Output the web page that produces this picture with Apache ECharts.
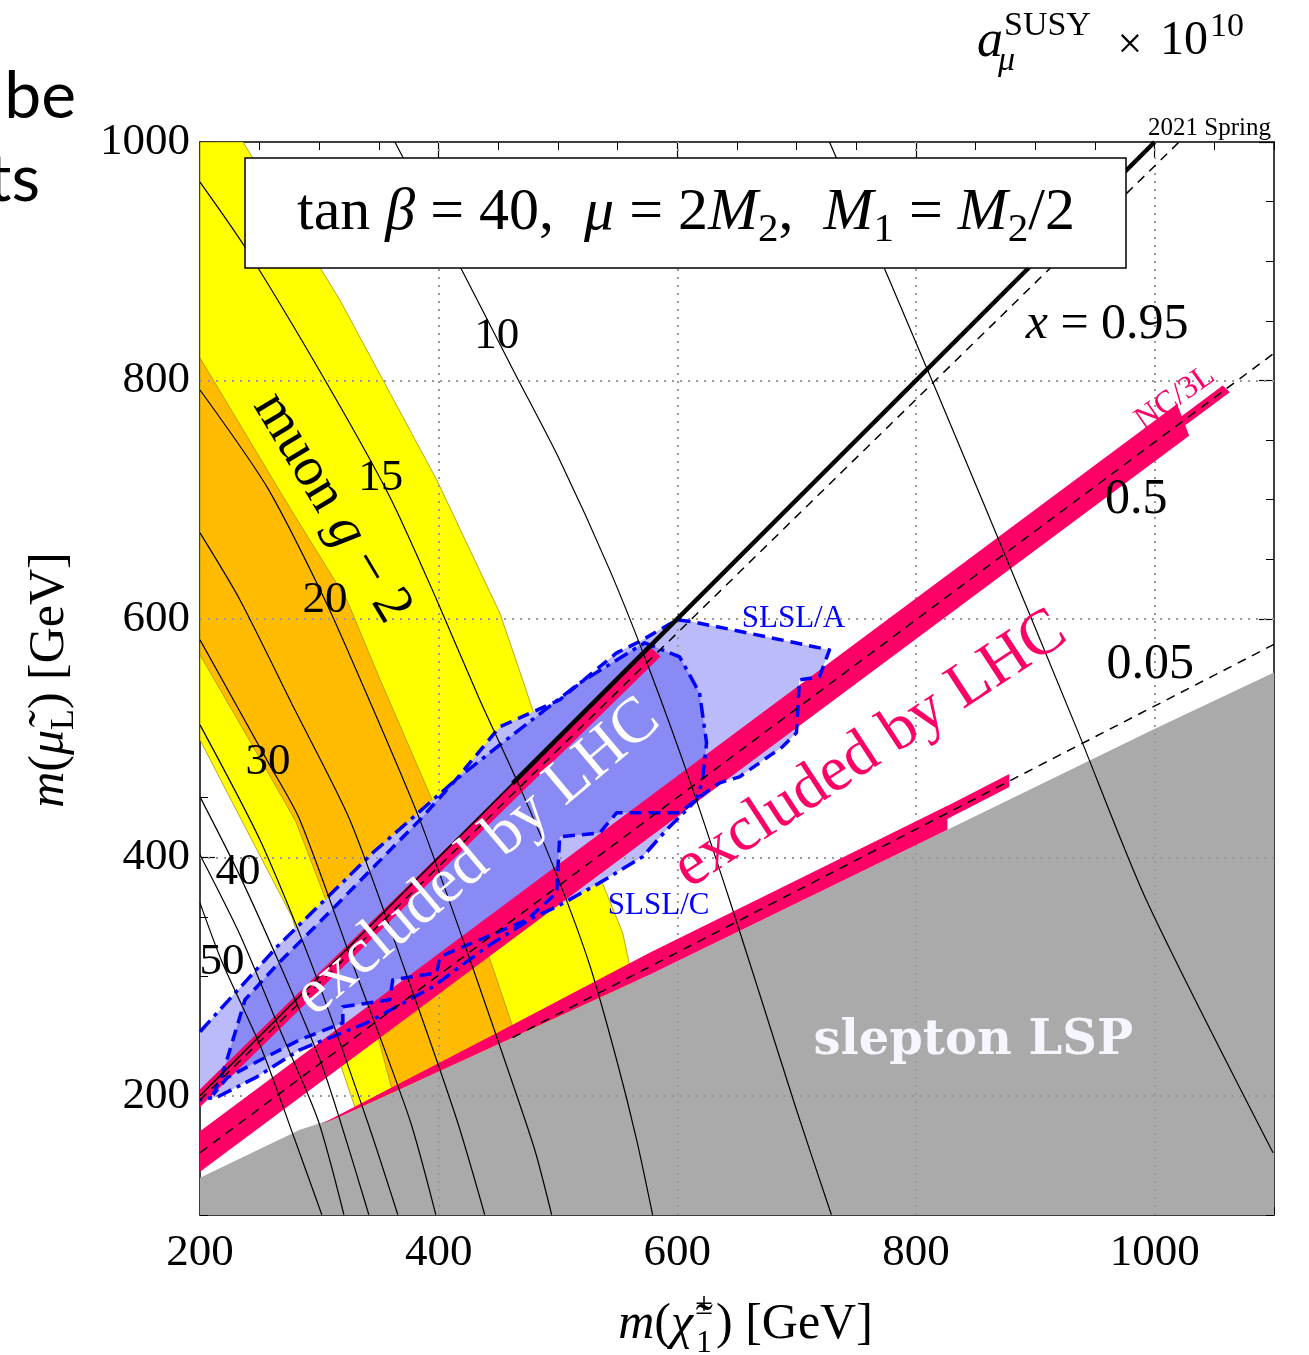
<!DOCTYPE html>
<html>
<head>
<meta charset="utf-8">
<script src="https://cdn.jsdelivr.net/npm/echarts@6.0.0/dist/echarts.min.js"></script>
<style>
html,body{margin:0;padding:0;background:#ffffff;}
#chart{width:1309px;height:1355px;}
</style>
</head>
<body>
<div id="chart"></div>
<script>
// ---------------- tick values ----------------
const X_MAJOR = [200, 400, 600, 800, 1000];
const Y_MAJOR = [200, 400, 600, 800, 1000];
const GRID_X = [400, 600, 800, 1000];
const GRID_Y = [200, 400, 600, 800];

// ---------------- regions  [m(chargino), m(smuon)] in GeV ----------------
const YELLOW_BAND = [[200,1000],[236.0,1000],[317.2,867.5],[398.4,716.6],[451.2,605.0],[470.4,548.8],[478.8,523.7],[515.6,431.4],[554.2,336.7],[561.7,301.5],[589.3,196.6],[618.6,100.2],[354.9,100.2],[330.6,188.3],[317.2,227.7],[277.0,350.1],[237.7,425.6],[200,498.5]];
const ORANGE_BAND = [[200,818.9],[277.9,688.9],[323.1,615.9],[349.9,551.4],[401.8,431.4],[444.5,309.9],[462.1,257.9],[490.5,179.9],[518.2,100.2],[392.6,100.2],[361.6,202.5],[348.2,252.8],[280.4,429.8],[251.9,480.1],[200,569.8]];
const SLEPTON_LSP = [[200,100],[200,131.2],[283.7,171.5],[317.2,182.4],[576.8,301.5],[998,506.9],[1100,555.1],[1100,100]];

const SLSL_UNION = [[200,253.7],[264.5,324.9],[344.8,403.8],[414.3,465.0],[451.2,509.4],[501.4,532.1],[549.1,571.5],[570.9,582.4],[599.4,599.2],[612.8,597.5],[646.3,590.8],[727.5,574.0],[719.1,551.4],[702.3,548.8],[699.8,504.4],[688.1,492.7],[652.1,467.5],[635.4,462.5],[616.1,448.2],[591.0,423.1],[570.9,400.4],[534.9,378.6],[498.9,358.5],[478.8,349.3],[440.3,324.9],[395.1,291.4],[339.8,261.2],[283.7,238.6],[247.7,215.9],[215.1,199.2],[200,196.6]];
const SLSL_OVERLAP = [[210.9,200.8],[218.4,217.6],[222.6,230.2],[237.7,280.5],[264.5,309.9],[308.8,354.3],[344.8,391.2],[384.2,431.4],[414.3,465.0],[451.2,494.3],[518.2,546.3],[572.6,579.9],[601.9,568.1],[618.6,537.9],[624.5,496.0],[621.1,465.0],[616.1,448.2],[601.9,437.3],[549.1,437.3],[534.9,420.5],[501.4,417.2],[498.9,370.2],[473.8,347.6],[400.9,316.6],[398.4,303.1],[361.6,297.3],[359.1,280.5],[319.7,274.6],[319.7,261.2],[283.7,247.0],[247.7,228.5],[222.6,215.1]];
const SLSL_A_EDGE = [[210.9,200.8],[218.4,217.6],[222.6,230.2],[237.7,280.5],[264.5,309.9],[308.8,354.3],[344.8,391.2],[384.2,431.4],[414.3,465.0],[451.2,509.4],[501.4,532.1],[549.1,571.5],[570.9,582.4],[599.4,599.2],[612.8,597.5],[646.3,590.8],[727.5,574.0],[719.1,551.4],[702.3,548.8],[699.8,504.4],[688.1,492.7],[652.1,467.5],[635.4,462.5],[618.6,450.7],[601.9,437.3],[549.1,437.3],[534.9,420.5],[501.4,417.2],[498.9,370.2],[473.8,347.6],[400.9,316.6],[398.4,303.1],[361.6,297.3],[359.1,280.5],[319.7,274.6],[319.7,261.2],[283.7,247.0],[247.7,228.5],[222.6,215.1],[210.9,200.8]];
const SLSL_C_EDGE = [[200,253.7],[264.5,324.9],[344.8,403.8],[414.3,465.0],[451.2,494.3],[518.2,546.3],[572.6,579.9],[601.9,568.1],[618.6,537.9],[624.5,496.0],[621.1,465.0],[616.1,448.2],[591.0,423.1],[570.9,400.4],[534.9,378.6],[498.9,358.5],[478.8,349.3],[440.3,324.9],[395.1,291.4],[339.8,261.2],[283.7,238.6],[247.7,215.9],[215.1,199.2],[200,196.6]];

const NC3L_X095 = [[200,205.5],[578,575.7],[586,568.5],[200,190.5]];
const NC3L_X05_WIDE = [[200,170.2],[1018.8,780.3],[1028.9,753.7],[200,136.2]];
const NC3L_X05_NARROW = [[1018,766.7],[1057,795.7],[1063,790.2],[1024,761.2]];
const NC3L_X005_WIDE = [[302.1,176.5],[451.2,254.0],[576.8,320.0],[826.3,443.2],[826.3,423.1],[576.8,301.5],[317.2,182.4]];
const NC3L_X005_NARROW = [[823.7,441.8],[878.2,470.0],[878.2,459.0],[823.7,430.8]];

// ---------------- lines ----------------
const LINE_X1_THIN = [[200,200],[462,462]];
const LINE_X1_THICK = [[462,462],[1000,1000]];
const LINE_X095 = [[200,196.5],[1020.5,1000]];
const LINE_X05 = [[200,152.2],[1100,822.8]];
const LINE_X005 = [[462,248.9],[1100,578.6]];

// ---------------- a_mu^SUSY x 10^10 contours ----------------
const AMU_5  = [[727.5,1000],[777.7,884.3],[857.2,695.6],[935.1,506.9],[992.9,364.4],[1099.2,152.2]];
const AMU_10 = [[363.3,1000],[419.4,892.7],[463.7,806.3],[501.4,733.3],[543.3,641.1],[576.8,557.2],[610.2,465.0],[643.7,364.4],[670.5,280.5],[699.8,188.3],[729.1,100.2]];
const AMU_15 = [[200,966.4],[237.7,911.9],[304.7,800.4],[359.1,702.3],[398.4,615.9],[434.4,532.1],[467.9,459.1],[498.9,385.3],[526.5,309.9],[549.1,230.2],[565.9,163.1],[579.3,100.2]];
const AMU_20 = [[200,792.0],[256.1,710.7],[304.7,615.9],[338.1,540.5],[384.2,431.4],[427.7,309.9],[459.5,217.6],[480.5,154.7],[494.7,100.2]];
const AMU_25 = [[200,672.1],[233.5,615.9],[279.5,523.7],[325.6,431.4],[371.6,305.7],[415.2,179.9],[438.6,100.2]];
const AMU_30 = [[200,582.4],[256.9,480.1],[283.7,431.4],[329.8,305.7],[375.8,179.9],[397.6,100.2]];
const AMU_35 = [[200,511.1],[250.2,414.7],[292.1,314.0],[339.8,179.9],[365.8,100.2]];
const AMU_40 = [[200,450.7],[231.8,387.8],[267.0,309.9],[300.5,230.2],[317.2,179.9],[341.5,100.2]];
const AMU_45 = [[200,402.1],[233.5,335.0],[267.0,255.3],[298.8,179.9],[320.6,100.2]];
const AMU_50 = [[200,361.8],[218.4,312.4],[251.9,238.6],[279.5,163.1],[302.1,100.2]];
const CONTOUR_LABELS = ['10', '15', '20', '30', '40', '50'];

// ---------------- styling / layout (not data) ----------------
const SERIF = "'Liberation Serif','Times New Roman',serif";
const PINK = '#FF0066';
const CONTOUR_LABEL_AT = [[448.7,837.3],[351.5,718.2],[304.7,615.9],[256.9,480.1],[231.8,387.8],[218.4,312.4]];
const ANNOT = [
  {at:[960.2,846.5], text:'{i|x}{n| = 0.95}', size:50},
  {at:[984.5,699.8], text:'0.5', size:50},
  {at:[996.2,561.4], text:'0.05', size:50},
  {at:[310.5,693.1], text:'{n|muon }{i|g}{n| − 2}', size:56, rot:-1.03},
  {at:[432.8,399.6], text:'excluded by LHC', size:64, color:'#FFFFFF', rot:0.70},
  {at:[761.8,490.1], text:'excluded by LHC', size:64, color:PINK, rot:0.58},
  {at:[848.0,245.3], text:'slepton LSP', size:48, color:'#F6F6FF', weight:'bold', family:"'DejaVu Serif',serif"},
  {at:[697.3,600.0], text:'SLSL/A', size:31, color:'#0000FF'},
  {at:[584.3,359.3], text:'SLSL/C', size:31, color:'#0000FF'},
  {at:[1017.1,785.3], text:'NC/3L', size:32, color:PINK, rot:0.61}
];

function rich(size, family) {
  const f = family || SERIF;
  return {
    n: {fontSize: size, fontFamily: f, lineHeight: size * 1.25},
    i: {fontSize: size, fontFamily: f, fontStyle: 'italic', lineHeight: size * 1.25},
    s: {fontSize: Math.round(size * 0.68), fontFamily: f, lineHeight: Math.round(size * 0.68), verticalAlign: 'bottom'},
    u: {fontSize: Math.round(size * 0.68), fontFamily: f, lineHeight: Math.round(size * 0.68), verticalAlign: 'top'}
  };
}

function polygon(points, fill, z, stroke, lw) {
  return {
    type: 'custom', coordinateSystem: 'cartesian2d', clip: true, silent: true, z: z,
    data: [[points[0][0], points[0][1]]],
    renderItem: function (params, api) {
      return {
        type: 'polygon',
        shape: {points: points.map(function (p) { return api.coord(p); })},
        style: {fill: fill, stroke: stroke || null, lineWidth: lw || 0}
      };
    }
  };
}

function line(points, color, width, type, z, smooth) {
  return {
    type: 'line', data: points, symbol: 'none', showSymbol: false, smooth: smooth || false,
    z: z, silent: true, clip: true,
    lineStyle: {color: color, width: width, type: type || 'solid', cap: 'butt', join: 'round'}
  };
}

function textSeries(items, z) {
  return {
    type: 'custom', coordinateSystem: 'cartesian2d', silent: true, z: z, clip: false,
    data: items.map(function (a) { return [a.at[0], a.at[1]]; }),
    renderItem: function (params, api) {
      const a = items[params.dataIndex];
      const p = api.coord(a.at);
      const fam = a.family || SERIF;
      return {
        type: 'text', x: p[0], y: p[1], rotation: a.rot || 0,
        style: {
          text: a.text, fill: a.color || '#000', fontSize: a.size, fontFamily: fam,
          fontWeight: a.weight || 'normal', lineHeight: a.size * 1.25,
          align: 'center', verticalAlign: 'middle', textAlign: 'center', textVerticalAlign: 'middle',
          rich: rich(a.size, fam)
        }
      };
    }
  };
}

function gtext(x, y, text, size, o) {
  o = o || {};
  const fam = o.family || SERIF;
  return {
    type: 'text', x: x, y: y, rotation: o.rot || 0, z: 100, silent: true,
    style: {
      text: text, fill: o.color || '#000', fontSize: size, fontFamily: fam,
      fontStyle: o.style || 'normal', fontWeight: o.weight || 'normal', lineHeight: size * 1.25,
      align: o.align || 'left', verticalAlign: o.valign || 'middle',
      textAlign: o.align || 'left', textVerticalAlign: o.valign || 'middle',
      rich: rich(size, fam)
    }
  };
}

function plainNum(v) { return String(v); }

function xAxisDef(pos, minor) {
  return {
    type: 'value', min: 200, max: 1100, position: pos, interval: minor ? 50 : undefined,
    axisLine: {show: !minor, onZero: false, lineStyle: {color: '#000', width: 1.5}},
    axisTick: minor ? {show: true, inside: true, length: 8, lineStyle: {color: '#000', width: 1}}
                    : {show: true, inside: true, length: 15, customValues: X_MAJOR, lineStyle: {color: '#000', width: 1.2}},
    axisLabel: (pos === 'bottom' && !minor) ? {show: true, customValues: X_MAJOR, formatter: plainNum, margin: 16, color: '#000', fontSize: 45, fontFamily: SERIF}
                                             : {show: false},
    splitLine: {show: false}
  };
}
function yAxisDef(pos, minor) {
  return {
    type: 'value', min: 100, max: 1000, position: pos, interval: minor ? 50 : undefined,
    axisLine: {show: !minor, onZero: false, lineStyle: {color: '#000', width: 1.5}},
    axisTick: minor ? {show: true, inside: true, length: 8, lineStyle: {color: '#000', width: 1}}
                    : {show: true, inside: true, length: 15, customValues: Y_MAJOR, lineStyle: {color: '#000', width: 1.2}},
    axisLabel: (pos === 'left' && !minor) ? {show: true, customValues: Y_MAJOR, formatter: plainNum, margin: 10, color: '#000', fontSize: 45, fontFamily: SERIF}
                                           : {show: false},
    splitLine: {show: false}
  };
}

const chart = echarts.init(document.getElementById('chart'), null, {renderer: 'canvas'});

const series = [
  polygon(YELLOW_BAND, '#FFFF00', 1, '#A89200', 0.8),
  polygon(ORANGE_BAND, '#FFBB00', 2, '#A89200', 0.8),
  polygon(SLEPTON_LSP, '#AAAAAA', 3),
  polygon(SLSL_UNION, '#BBBBF9', 4),
  polygon(SLSL_OVERLAP, '#8A8AF4', 5),
  polygon(NC3L_X095, PINK, 6),
  polygon(NC3L_X05_WIDE, PINK, 6),
  polygon(NC3L_X05_NARROW, PINK, 6),
  polygon(NC3L_X005_WIDE, PINK, 6),
  polygon(NC3L_X005_NARROW, PINK, 6),
  line(SLSL_A_EDGE, '#0000FF', 3.5, [12, 7], 7),
  line(SLSL_C_EDGE, '#0000FF', 3.5, [15, 6, 4, 6], 7),
  line(LINE_X095, '#000', 1.5, [9, 7], 8),
  line(LINE_X05, '#000', 1.5, [9, 7], 8),
  line(LINE_X005, '#000', 1.5, [9, 7], 8),
  line(LINE_X1_THIN, '#000', 1.6, 'solid', 8),
  line(LINE_X1_THICK, '#000', 4.5, 'solid', 8)
];
[AMU_5, AMU_10, AMU_15, AMU_20, AMU_25, AMU_30, AMU_35, AMU_40, AMU_45, AMU_50].forEach(function (c) {
  series.push(line(c, '#000', 1.2, 'solid', 9, 0.25));
});
series.push({
  type: 'line', data: [[200, 100]], symbol: 'none', z: 20, silent: true,
  markLine: {
    silent: true, symbol: ['none', 'none'], label: {show: false}, animation: false,
    lineStyle: {color: '#999999', width: 2, type: [2, 6]},
    emphasis: {disabled: true},
    data: GRID_X.map(function (v) { return {xAxis: v}; }).concat(GRID_Y.map(function (v) { return {yAxis: v}; }))
  }
});
series.push(textSeries(CONTOUR_LABELS.map(function (t, i) { return {at: CONTOUR_LABEL_AT[i], text: t, size: 45}; }), 30));
series.push(textSeries(ANNOT, 31));

const option = {
  animation: false,
  backgroundColor: '#ffffff',
  grid: {left: 200, top: 142, width: 1074, height: 1073, containLabel: false},
  xAxis: [xAxisDef('bottom', false), xAxisDef('bottom', true), xAxisDef('top', false), xAxisDef('top', true)],
  yAxis: [yAxisDef('left', false), yAxisDef('left', true), yAxisDef('right', false), yAxisDef('right', true)],
  series: series,
  graphic: [
    {type: 'rect', z: 99, silent: true, shape: {x: 245, y: 158, width: 881, height: 110}, style: {fill: '#fff', stroke: '#000', lineWidth: 1.5}},
    gtext(686, 213, '{n|tan }{i|β}{n| = 40,  }{i|μ}{n| = 2}{i|M}{s|2}{n|,  }{i|M}{s|1}{n| = }{i|M}{s|2}{n|/2}', 60, {align: 'center'}),
    gtext(1003, 42, 'a', 52, {align: 'right', style: 'italic'}),
    gtext(1004, 26, 'SUSY', 34),
    gtext(998, 61, 'μ', 34, {style: 'italic'}),
    gtext(1130, 46, '×', 44, {align: 'center'}),
    gtext(1160, 41, '10', 48),
    gtext(1210, 27, '10', 34),
    gtext(1148, 128, '2021 Spring', 25),
    gtext(76, 97, 'be', 66, {align: 'right', family: "Lato,'Open Sans',sans-serif", color: '#000'}),
    gtext(40, 180, 'ts', 66, {align: 'right', family: "Lato,'Open Sans',sans-serif", color: '#000'}),
    gtext(50, 680, '{i|m}{n|(}{i|μ̃}{s|L}{n|) [GeV]}', 50, {align: 'center', rot: Math.PI / 2}),
    gtext(693, 1325, '{i|m}{n|(}{i|χ̃}', 50, {align: 'right'}),
    gtext(704, 1306, '±', 32, {align: 'center'}),
    gtext(704, 1344, '1', 32, {align: 'center'}),
    gtext(716, 1325, ') [GeV]', 50, {align: 'left'})
  ]
};
chart.setOption(option);
</script>
</body>
</html>
